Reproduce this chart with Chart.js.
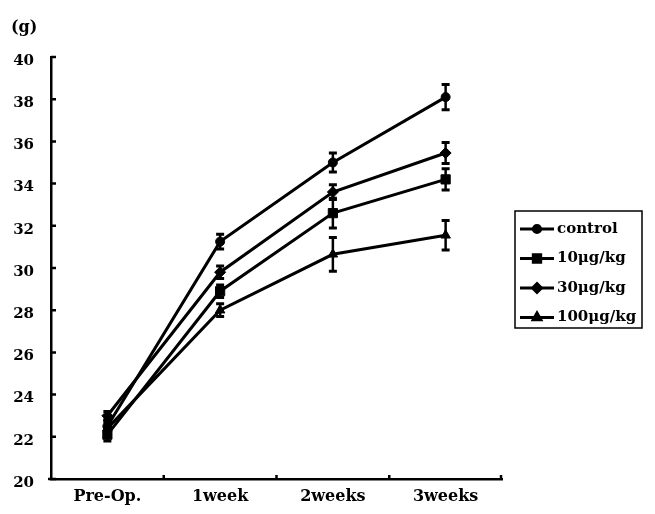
<!DOCTYPE html>
<html lang="en">
<head>
<meta charset="UTF-8">
<title>Body weight</title>
<style>
  html, body { margin: 0; padding: 0; background: #fff; }
  #wrap { width: 655px; height: 514px; position: relative; }
</style>
</head>
<body>
<div id="wrap">
  <canvas id="myChart" width="655" height="514"></canvas>
</div>
<script src="https://cdn.jsdelivr.net/npm/chart.js@4"></script>
<script>
  // values (g)
  const categories = ['Pre-Op.', '1week', '2weeks', '3weeks']
  const seriesNames = ['control', '10\u03bcg/kg', '30\u03bcg/kg', '100\u03bcg/kg']
  const control = [22.5, 31.25, 35.0, 38.1]
  const dose10 = [22.1, 28.9, 32.6, 34.2]
  const dose30 = [23.0, 29.8, 33.6, 35.45]
  const dose100 = [22.4, 28.0, 30.65, 31.55]
  const controlErr = [0.3, 0.35, 0.45, 0.6]
  const dose10Err = [0.3, 0.3, 0.7, 0.5]
  const dose30Err = [0.2, 0.3, 0.35, 0.5]
  const dose100Err = [0.3, 0.3, 0.8, 0.7]
  const yTicks = [20, 22, 24, 26, 28, 30, 32, 34, 36, 38, 40]

  const FONT = "'DejaVu Serif', 'Liberation Serif', serif"
  const ctx = document.getElementById('myChart')

  const mk = (label, data, err, style, radius) => ({
    label: label,
    data: data,
    errors: err,
    borderColor: '#000',
    backgroundColor: '#000',
    borderWidth: 3,
    tension: 0,
    fill: false,
    pointStyle: style,
    pointRadius: radius,
    pointBackgroundColor: '#000',
    pointBorderColor: '#000',
    pointBorderWidth: 1
  })

  // error bars + inward tick marks
  const extras = {
    id: 'extras',
    beforeDatasetsDraw(chart) {
      const c = chart.ctx
      const ys = chart.scales.y
      c.save()
      c.strokeStyle = '#000'
      c.lineWidth = 2.5
      chart.data.datasets.forEach((ds, i) => {
        const meta = chart.getDatasetMeta(i)
        meta.data.forEach((pt, j) => {
          const e = ds.errors[j]
          const top = ys.getPixelForValue(ds.data[j] + e)
          const bot = ys.getPixelForValue(ds.data[j] - e)
          c.beginPath()
          c.moveTo(pt.x, top); c.lineTo(pt.x, bot)
          c.stroke()
          c.lineWidth = 3
          c.beginPath()
          c.moveTo(pt.x - 4, top); c.lineTo(pt.x + 4, top)
          c.moveTo(pt.x - 4, bot); c.lineTo(pt.x + 4, bot)
          c.stroke()
          c.lineWidth = 2.5
        })
      })
      c.restore()
    },
    afterDraw(chart) {
      const c = chart.ctx
      const a = chart.chartArea
      const ys = chart.scales.y
      const xs = chart.scales.x
      c.save()
      c.strokeStyle = '#000'
      c.lineWidth = 2
      c.beginPath()
      yTicks.forEach(v => {
        const y = ys.getPixelForValue(v)
        c.moveTo(a.left, y); c.lineTo(a.left + 5, y)
      })
      for (let k = 1; k <= categories.length; k++) {
        const x = k < categories.length
          ? (xs.getPixelForValue(k - 1) + xs.getPixelForValue(k)) / 2
          : a.right - 1
        c.moveTo(x, a.bottom); c.lineTo(x, a.bottom - 4)
      }
      // axis runs a little past the y axis, as in the scan
      c.moveTo(a.left - 3, a.bottom); c.lineTo(a.left, a.bottom)
      c.lineWidth = 2.5
      c.stroke()

      // unit
      c.fillStyle = '#000'
      c.font = 'bold 16px ' + FONT
      c.textAlign = 'left'
      c.textBaseline = 'middle'
      c.fillText('(g)', 11, 28)

      // legend
      const bx = 515, by = 211, bw = 127, bh = 117
      c.lineWidth = 1.5
      c.strokeRect(bx, by, bw, bh)
      chart.data.datasets.forEach((ds, i) => {
        const y = by + 18 + i * 29.5
        c.lineWidth = 3
        c.beginPath()
        c.moveTo(bx + 5, y); c.lineTo(bx + 39, y)
        c.stroke()
        Chart.helpers.drawPoint(c, {
          pointStyle: ds.pointStyle,
          radius: ds.pointRadius * 0.8,
          rotation: 0,
          borderWidth: 1
        }, bx + 22, y)
        c.fill()
        c.font = 'bold 15px ' + FONT
        c.fillText(ds.label, bx + 42, y)
      })
      c.restore()
    }
  }

  new Chart(ctx, {
    type: 'line',
    data: {
      labels: categories,
      datasets: [
        mk(seriesNames[0], control, controlErr, 'circle', 4.5),
        mk(seriesNames[1], dose10, dose10Err, 'rect', 6.5),
        mk(seriesNames[2], dose30, dose30Err, 'rectRot', 5.5),
        mk(seriesNames[3], dose100, dose100Err, 'triangle', 5.5)
      ]
    },
    options: {
      responsive: false,
      animation: false,
      layout: { padding: { top: 57, right: 153, left: 0, bottom: 0 } },
      plugins: {
        legend: { display: false },
        tooltip: { enabled: false }
      },
      scales: {
        x: {
          offset: true,
          grid: { display: false, drawTicks: false },
          border: { display: true, color: '#000', width: 2.5 },
          ticks: {
            color: '#000',
            padding: 8,
            maxRotation: 0,
            font: { family: FONT, size: 16, weight: 'bold' }
          },
          afterFit(scale) { scale.height = 35 }
        },
        y: {
          min: 20,
          max: 40,
          grid: { display: false, drawTicks: false },
          border: { display: true, color: '#000', width: 2.5 },
          ticks: {
            stepSize: 2,
            color: '#000',
            padding: 17,
            labelOffset: 4,
            font: { family: FONT, size: 15, weight: 'bold' }
          },
          afterFit(scale) { scale.width = 51 }
        }
      }
    },
    plugins: [extras]
  })
</script>
</body>
</html>
